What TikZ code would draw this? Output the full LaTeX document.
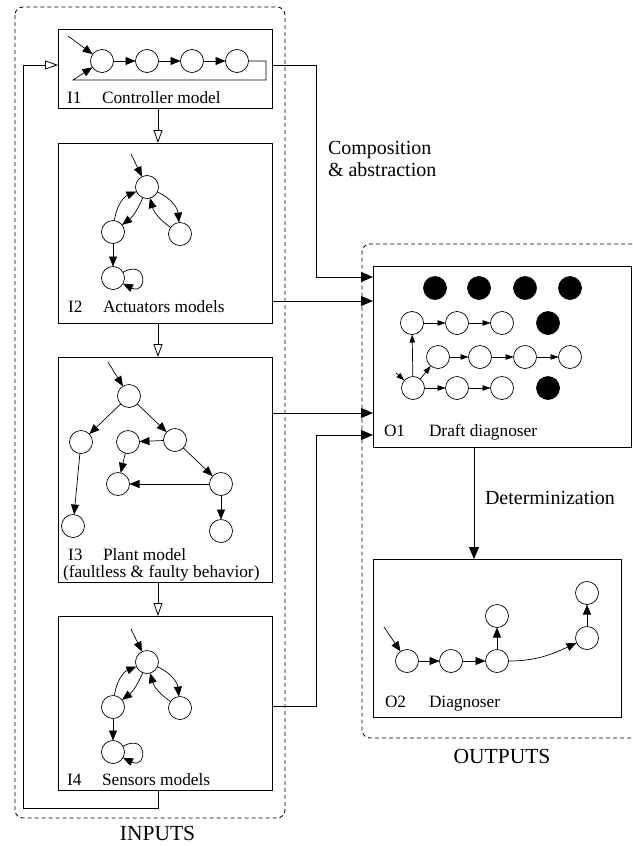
\documentclass[tikz,border=0pt]{standalone}
\usepackage{fontspec}
\setmainfont{Liberation Serif}
\usetikzlibrary{arrows.meta}
\tikzstyle{state}=[draw, circle, line width=0.7pt, inner sep=0, outer sep=0, minimum size=23pt]
\tikzstyle{fstate}=[state, fill=black]
\tikzstyle{model}=[draw, line width=0.8pt, inner sep=0, outer sep=0, minimum width=214pt]
\tikzstyle{txt}=[inner sep=0, outer sep=0, anchor=base west, font=\fontsize{17.3}{20}\selectfont]
\tikzstyle{bigtxt}=[txt, font=\fontsize{20}{23}\selectfont]
\tikzstyle{grouptxt}=[txt, anchor=base, font=\fontsize{21.5}{25}\selectfont]
\tikzstyle{trans}=[line width=0.7pt, -{Triangle[length=10pt, width=8pt]}]
\tikzstyle{strans}=[line width=0.7pt, -{Triangle[length=8pt, width=5.5pt]}]
\tikzstyle{flow}=[line width=0.8pt, -{Triangle[length=12pt, width=10pt]}]
\tikzstyle{order}=[line width=0.8pt, -{Triangle[open, length=13pt, width=9pt]}]
\tikzstyle{group}=[line width=0.8pt, dash pattern=on 4pt off 3pt, rounded corners=8pt]

\begin{document}
\begin{tikzpicture}[x=1pt, y=1pt]
    \useasboundingbox (0,0) rectangle (632,-846);
    % dashed groups
    \draw[group] (15,-7) rectangle (285,-818);
    \draw[group] (632,-244) -- (362,-244) -- (362,-738) -- (632,-738);
    \node[grouptxt] (inputs) at (157.5,-840.5) {INPUTS};
    \node[grouptxt] (outputs) at (502,-763) {OUTPUTS};

    % input models
    \node[model, minimum height=79pt]  (I1) at (165,-68.5) {};
    \node[model, minimum height=180pt] (I2) at (165,-233) {};
    \node[model, minimum height=225pt] (I3) at (165,-469.5) {};
    \node[model, minimum height=174pt] (I4) at (165,-703) {};
    % output models
    \node[model, minimum width=258pt, minimum height=181pt] (O1) at (502,-356.5) {};
    \node[model, minimum width=248pt, minimum height=158pt] (O2) at (497,-638) {};

    % I1: controller
    \node[state] (c1) at (102,-61) {};
    \node[state] (c2) at (147,-61) {};
    \node[state] (c3) at (192,-61) {};
    \node[state] (c4) at (237,-61) {};
    \coordinate (c1in) at (68,-36);
    \coordinate (ret1) at (266,-80);
    \coordinate (ret2) at (73,-80);
    \draw[trans] (c1in) -- (c1);
    \draw[trans] (c1) -- (c2);
    \draw[trans] (c2) -- (c3);
    \draw[trans] (c3) -- (c4);
    \draw[trans] (c4) -| (ret1) -- (ret2) -- (c1);
    \node[txt] (I1id) at (67,-103) {I1};
    \node[txt] (I1name) at (102,-103) {Controller model};

    % I2: actuators
    \node[state] (a1) at (147,-187) {};
    \node[state] (a2) at (113,-232) {};
    \node[state] (a3) at (180,-234) {};
    \node[state] (a4) at (113,-278) {};
    \coordinate (a1in) at (131,-154);
    \draw[trans] (a1in) -- (a1);
    \draw[trans] (a1) to[bend left=15] (a2);
    \draw[trans] (a2) to[bend left=30] (a1);
    \draw[trans] (a1) to[bend left=30] (a3);
    \draw[trans] (a3) to[bend left=20] (a1);
    \draw[trans] (a2) -- (a4);
    \draw[trans] (a4.30) .. controls +(25,14) and +(25,-12) .. (a4.-30);
    \node[txt] (I2id) at (68,-312) {I2};
    \node[txt] (I2name) at (103,-312) {Actuators models};

    % I3: plant
    \node[state] (p1) at (129,-396) {};
    \node[state] (p2) at (81,-442) {};
    \node[state] (p3) at (128,-442) {};
    \node[state] (p4) at (175,-440) {};
    \node[state] (p5) at (118,-484) {};
    \node[state] (p6) at (221,-484) {};
    \node[state] (p7) at (73,-526) {};
    \node[state] (p8) at (221,-531) {};
    \coordinate (p1in) at (108,-362);
    \draw[trans] (p1in) -- (p1);
    \draw[trans] (p1) -- (p2);
    \draw[trans] (p1) -- (p4);
    \draw[trans] (p4) -- (p3);
    \draw[trans] (p3) -- (p5);
    \draw[trans] (p4) -- (p6);
    \draw[trans] (p6) -- (p5);
    \draw[trans] (p2) -- (p7);
    \draw[trans] (p6) -- (p8);
    \node[txt] (I3id) at (68,-560) {I3};
    \node[txt] (I3name) at (103,-560) {Plant model};
    \node[txt] (I3note) at (63,-577) {(faultless \& faulty behavior)};

    % I4: sensors
    \node[state] (s1) at (147,-662) {};
    \node[state] (s2) at (113,-707) {};
    \node[state] (s3) at (180,-708) {};
    \node[state] (s4) at (113,-752) {};
    \coordinate (s1in) at (131,-629);
    \draw[trans] (s1in) -- (s1);
    \draw[trans] (s1) to[bend left=15] (s2);
    \draw[trans] (s2) to[bend left=30] (s1);
    \draw[trans] (s1) to[bend left=30] (s3);
    \draw[trans] (s3) to[bend left=20] (s1);
    \draw[trans] (s2) -- (s4);
    \draw[trans] (s4.30) .. controls +(25,14) and +(25,-12) .. (s4.-30);
    \node[txt] (I4id) at (67,-785) {I4};
    \node[txt] (I4name) at (102,-785) {Sensors models};

    % O1: draft diagnoser
    \node[fstate] (f1) at (435,-288) {};
    \node[fstate] (f2) at (479,-288) {};
    \node[fstate] (f3) at (525,-288) {};
    \node[fstate] (f4) at (570,-288) {};
    \node[state] (d1) at (412,-323) {};
    \node[state] (d2) at (457,-323) {};
    \node[state] (d3) at (502,-323) {};
    \node[fstate] (f5) at (548,-323) {};
    \node[state] (e1) at (438,-357) {};
    \node[state] (e2) at (480,-357) {};
    \node[state] (e3) at (525,-357) {};
    \node[state] (e4) at (570,-357) {};
    \node[state] (g1) at (413,-388) {};
    \node[state] (g2) at (457,-388) {};
    \node[state] (g3) at (502,-388) {};
    \node[fstate] (f6) at (548,-388) {};
    \coordinate (g1in) at (396,-373);
    \draw[strans] (g1in) -- (g1);
    \draw[strans] (d1) -- (d2);
    \draw[strans] (d2) -- (d3);
    \draw[strans] (e1) -- (e2);
    \draw[strans] (e2) -- (e3);
    \draw[strans] (e3) -- (e4);
    \draw[strans] (g1) -- (g2);
    \draw[strans] (g2) -- (g3);
    \draw[strans] (g1) -- (d1);
    \draw[strans] (g1) -- (e1);
    \node[txt] (O1id) at (384,-436) {O1};
    \node[txt] (O1name) at (429,-436) {Draft diagnoser};

    % O2: diagnoser
    \node[state] (h1) at (407,-661) {};
    \node[state] (h2) at (451,-661) {};
    \node[state] (h3) at (497,-661) {};
    \node[state] (h4) at (497,-616) {};
    \node[state] (h5) at (587,-638) {};
    \node[state] (h6) at (587,-593) {};
    \coordinate (h1in) at (384,-627);
    \draw[trans] (h1in) -- (h1);
    \draw[trans] (h1) -- (h2);
    \draw[trans] (h2) -- (h3);
    \draw[trans] (h3) -- (h4);
    \draw[trans] (h3) to[out=0, in=205] (h5);
    \draw[trans] (h5) -- (h6);
    \node[txt] (O2id) at (385,-707) {O2};
    \node[txt] (O2name) at (429,-707) {Diagnoser};

    % ordering of the inputs
    \coordinate (back) at (23,-808);
    \draw[order] ([xshift=-7pt]I1.south) -- ([xshift=-7pt]I2.north);
    \draw[order] ([xshift=-7pt]I2.south) -- ([xshift=-7pt]I3.north);
    \draw[order] ([xshift=-7pt]I3.south) -- ([xshift=-7pt]I4.north);
    \draw[order] ([xshift=-7pt]I4.south) |- (back) |- ([yshift=3.5pt]I1.west);

    % composition and determinization
    \coordinate (bend1) at (316,-65);
    \coordinate (bend2) at (316,-706);
    \draw[flow] ([yshift=3.5pt]I1.east) -- (bend1) |- ([yshift=79.5pt]O1.west);
    \draw[flow] ([yshift=-68pt]I2.east) -- ([yshift=55.5pt]O1.west);
    \draw[flow] ([yshift=56.5pt]I3.east) -- ([yshift=-56.5pt]O1.west);
    \draw[flow] ([yshift=-3pt]I4.east) -- (bend2) |- ([yshift=-78.5pt]O1.west);
    \draw[flow] ([xshift=-28pt]O1.south) -- ([xshift=-28pt]O1.south |- O2.north);
    \node[bigtxt] (comp) at (328,-154) {Composition};
    \node[bigtxt] (abstr) at (328,-176) {\& abstraction};
    \node[bigtxt] (determ) at (485,-504) {Determinization};
\end{tikzpicture}
\end{document}
